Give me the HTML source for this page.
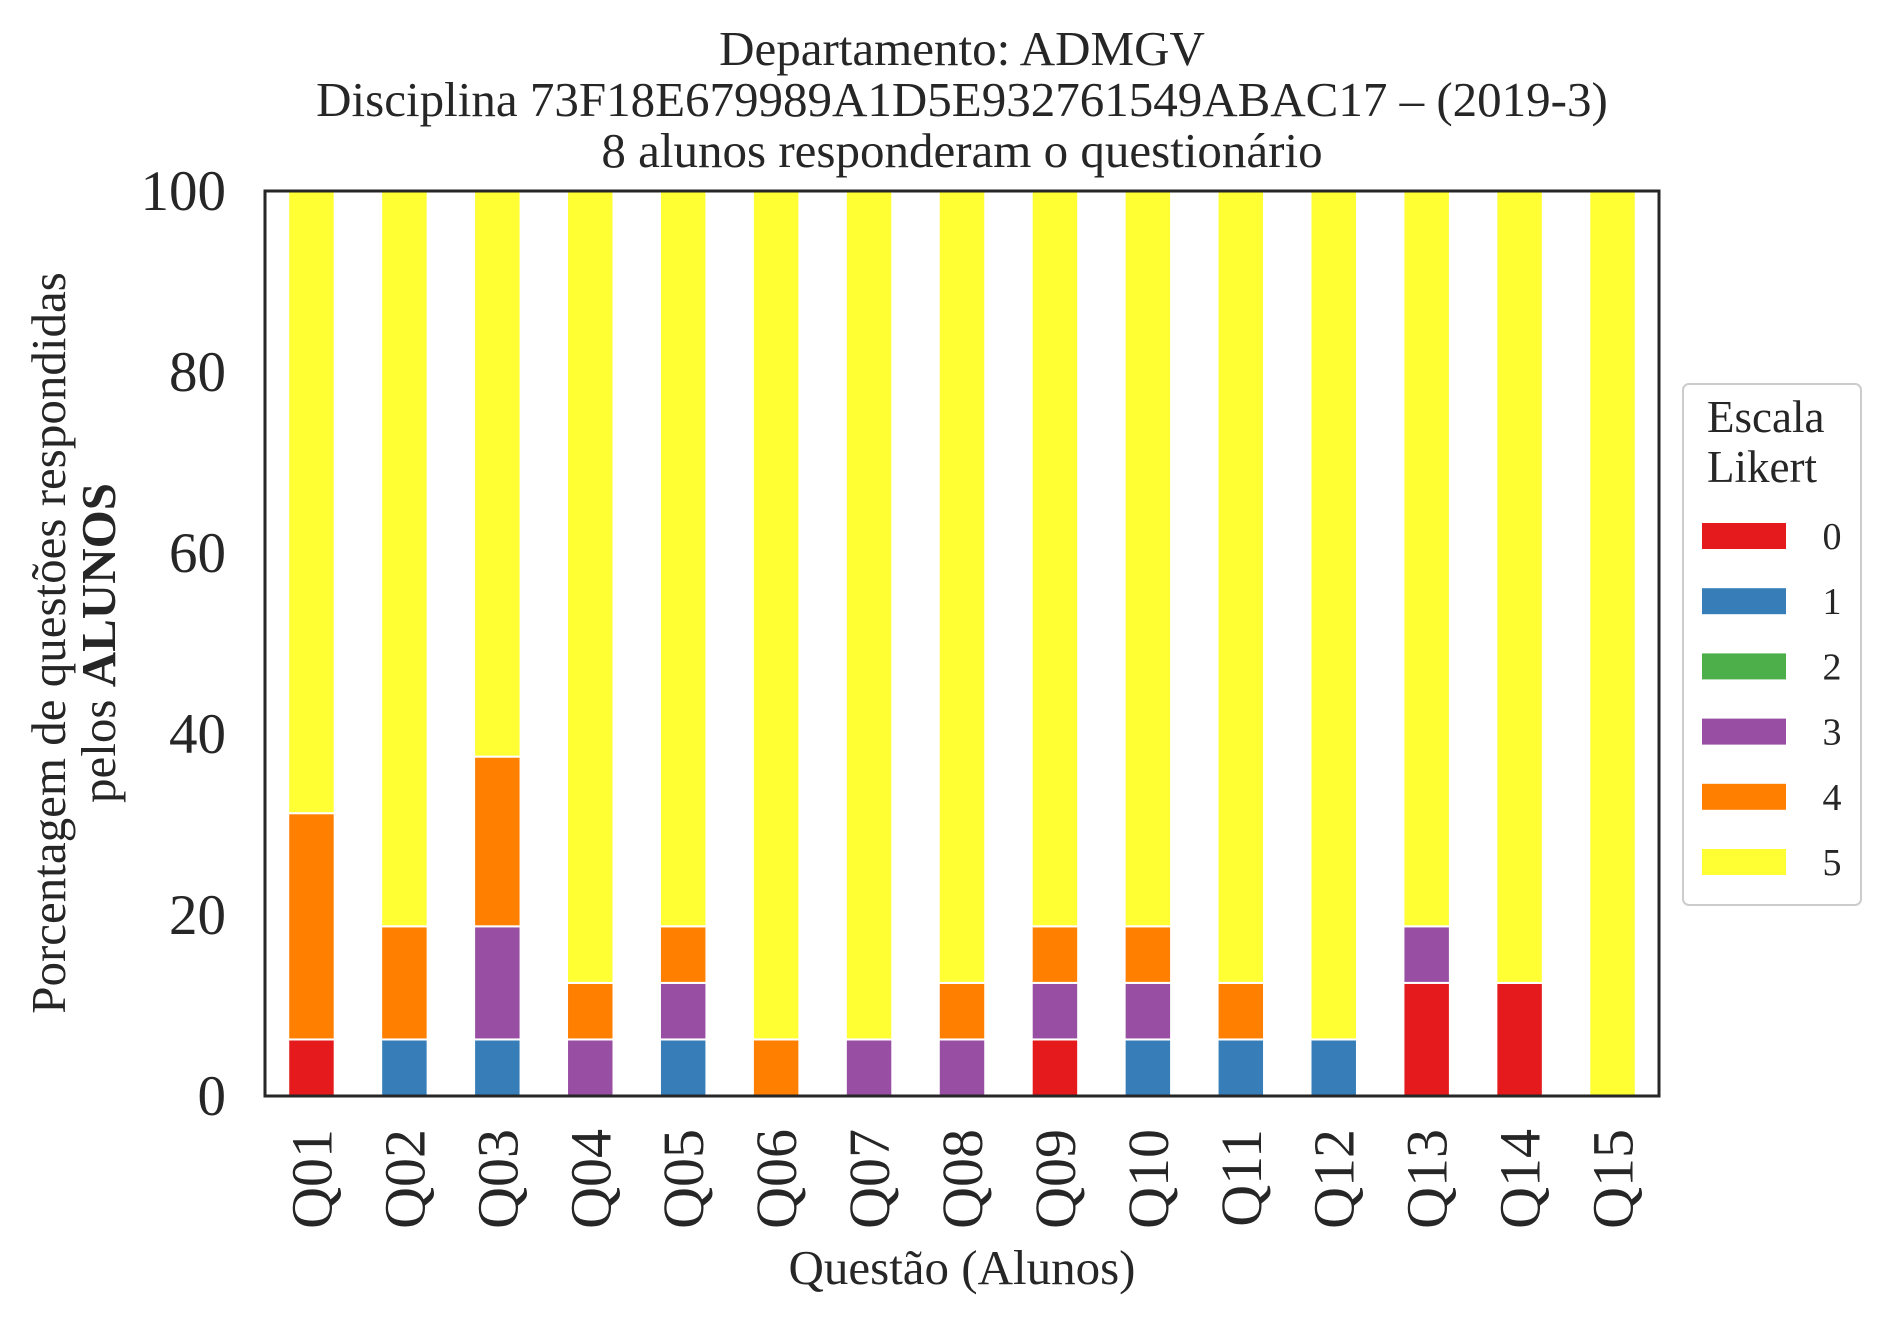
<!DOCTYPE html>
<html><head><meta charset="utf-8"><style>
html,body{margin:0;padding:0;background:#fff}
svg{display:block;font-family:"Liberation Serif",serif;fill:#262626}
</style></head><body>
<svg id="chart" width="1892" height="1323" viewBox="0 0 1892 1323">
<g font-size="49" text-anchor="middle">
<text x="962" y="65">Departamento: ADMGV</text>
<text x="962" y="116">Disciplina 73F18E679989A1D5E932761549ABAC17 – (2019-3)</text>
<text x="962" y="167">8 alunos responderam o questionário</text>
</g>
<g id="bars"></g>
<rect x="265" y="191" width="1394" height="905" fill="none" stroke="#262626" stroke-width="3"/>
<g id="yticks" font-size="57" text-anchor="end"></g>
<g id="xticks" font-size="58"></g>
<text x="962" y="1284" font-size="49" text-anchor="middle">Questão (Alunos)</text>
<g font-size="49" text-anchor="middle">
<text transform="translate(65,643) rotate(-90)">Porcentagem de questões respondidas</text>
<text transform="translate(115,643) rotate(-90)">pelos <tspan font-weight="bold">ALUNOS</tspan></text>
</g>
<g id="legend">
<rect x="1683" y="384" width="178" height="521" rx="6" fill="#fff" stroke="#ccc" stroke-width="2"/>
<text x="1707" y="432" font-size="45">Escala</text>
<text x="1707" y="482" font-size="45">Likert</text>
</g>
</svg>
<script>
const categories=["Q01","Q02","Q03","Q04","Q05","Q06","Q07","Q08","Q09","Q10","Q11","Q12","Q13","Q14","Q15"];
const levels=["0","1","2","3","4","5"];
const colors=["#e41a1c","#377eb8","#4daf4a","#984ea3","#ff7f00","#ffff33"];
const s0=[6.25,0,0,0,0,0,0,0,6.25,0,0,0,12.5,12.5,0];
const s1=[0,6.25,6.25,0,6.25,0,0,0,0,6.25,6.25,6.25,0,0,0];
const s2=[0,0,0,0,0,0,0,0,0,0,0,0,0,0,0];
const s3=[0,0,12.5,6.25,6.25,0,6.25,6.25,6.25,6.25,0,0,6.25,0,0];
const s4=[25,12.5,18.75,6.25,6.25,6.25,0,6.25,6.25,6.25,6.25,0,0,0,0];
const s5=[68.75,81.25,62.5,87.5,81.25,93.75,93.75,87.5,81.25,81.25,87.5,93.75,81.25,87.5,100];
const yTicks=[0,20,40,60,80,100];
const series=[s0,s1,s2,s3,s4,s5];
const NS="http://www.w3.org/2000/svg";
const X0=265,X1=1659,Y0=1096,Y1=191;
const step=(X1-X0)/categories.length;
const xc=i=>X0+step*(i+0.5);
const y=v=>Y0-(v/100)*(Y0-Y1);
const bw=step*0.5;
const bars=document.getElementById('bars');
categories.forEach((c,i)=>{
  let acc=0;
  series.forEach((s,k)=>{
    const v=s[i]; if(!v){return;}
    const r=document.createElementNS(NS,'rect');
    
    
    r.setAttribute('x',xc(i)-bw/2);r.setAttribute('width',bw);
    r.setAttribute('y',y(acc+v));r.setAttribute('height',y(acc)-y(acc+v));
    r.setAttribute('fill',colors[k]);r.setAttribute('stroke','#fff');r.setAttribute('stroke-width','2');
    bars.appendChild(r);acc+=v;
  });
});
const yt=document.getElementById('yticks');
yTicks.forEach(t=>{
  const e=document.createElementNS(NS,'text');
  
  
  e.setAttribute('x',226);e.setAttribute('y',y(t)+19);e.textContent=t;yt.appendChild(e);
});
const xt=document.getElementById('xticks');
categories.forEach((c,i)=>{
  const e=document.createElementNS(NS,'text');
  
  
  e.setAttribute('text-anchor','end');
  e.setAttribute('transform','translate('+(xc(i)+20)+','+(Y0+33)+') rotate(-90)');
  e.textContent=c;xt.appendChild(e);
});
const lg=document.getElementById('legend');
levels.forEach((l,k)=>{
  const yy=536+k*65.2;
  const r=document.createElementNS(NS,'rect');
  
  
  r.setAttribute('x',1702);r.setAttribute('y',yy-13);r.setAttribute('width',84);r.setAttribute('height',26);
  r.setAttribute('fill',colors[k]);lg.appendChild(r);
  const t=document.createElementNS(NS,'text');
  
  
  t.setAttribute('x',1832);t.setAttribute('y',yy+13);t.setAttribute('font-size','38');t.setAttribute('text-anchor','middle');
  t.textContent=l;lg.appendChild(t);
});
</script>
</body></html>
